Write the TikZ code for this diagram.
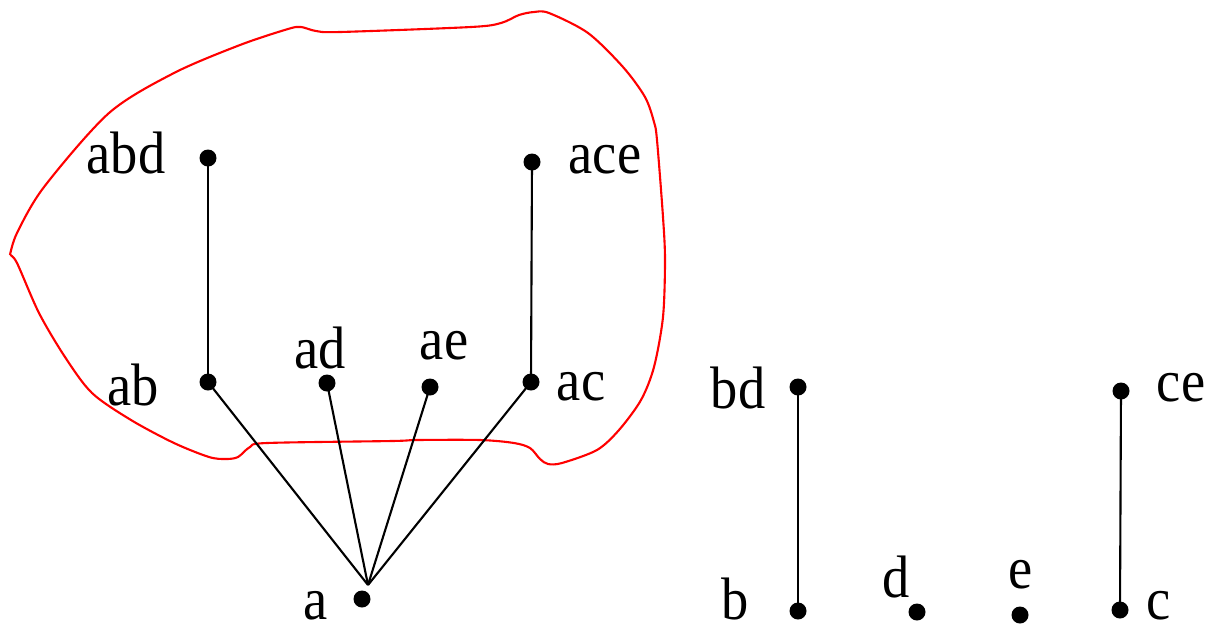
\documentclass[tikz,border=0pt]{standalone}
\usepackage{graphicx}
\usepackage{fontspec}
\setmainfont{Liberation Serif}
\newcommand{\tallbox}[1]{\scalebox{1}[1.1]{#1}}
\begin{document}
\begin{tikzpicture}[x=0.02cm,y=-0.02cm,
  dot/.style={circle,fill=black,inner sep=0pt,minimum size=0.34cm},
  lbl/.style={anchor=base,inner sep=0pt,font=\fontsize{31}{36}\selectfont},
  edge/.style={line width=1.2pt},
  blob/.style={red,line width=1.2pt}]
\useasboundingbox (0,0) rectangle (1211,630);
% red outline
\draw[blob] plot[smooth,tension=0.5] coordinates {(10,255) (17,233) (44,187) (109,113) (174,73) (240,45) (288,29) (301,27) (316,31) (340,32) (471,27) (501,23) (519,15) (534,12) (549,13) (588,33) (623,67) (645,97) (654,122) (657,140) (663,217) (665,260) (663,317) (654,367) (641,400) (619,430) (597,450) (562,463) (548,464) (540,459) (530,448) (514,443) (480,440) (417,440) (392,441) (267,443) (250,447) (238,457) (226,459) (209,457) (174,443) (131,420) (92,393) (65,357) (39,313) (17,263) (10,255)};
% dots
\node[dot] (abd) at (208,158) {};
\node[dot] (ace) at (532,162) {};
\node[dot] (ab) at (208,382) {};
\node[dot] (ad) at (327,383) {};
\node[dot] (ae) at (430,387) {};
\node[dot] (ac) at (531,382) {};
\node[dot] (a) at (362,599) {};
\coordinate (apex) at (368,585);
\node[dot] (bd) at (798,387) {};
\node[dot] (ce) at (1121,391) {};
\node[dot] (b) at (798,611) {};
\node[dot] (d) at (917,612) {};
\node[dot] (e) at (1020,615) {};
\node[dot] (c) at (1120,610) {};
% labels
\node[lbl] (labd) at (126,173) {\tallbox{abd}};
\node[lbl] (lace) at (605,173) {\tallbox{ace}};
\node[lbl] (lab) at (133,405) {\tallbox{ab}};
\node[lbl] (lad) at (320,368) {\tallbox{ad}};
\node[lbl] (lae) at (444,359) {\tallbox{ae}};
\node[lbl] (lac) at (581,400) {\tallbox{ac}};
\node[lbl] (la) at (316,619) {\tallbox{a}};
\node[lbl] (lbd) at (738,408) {\tallbox{bd}};
\node[lbl] (lce) at (1181,401) {\tallbox{ce}};
\node[lbl] (lb) at (735,619) {\tallbox{b}};
\node[lbl] (ld) at (896,597) {\tallbox{d}};
\node[lbl] (le) at (1021,588) {\tallbox{e}};
\node[lbl] (lc) at (1159,619) {\tallbox{c}};
% edges
\draw[edge] (abd.center) -- (ab.center);
\draw[edge] (ace.center) -- (ac.center);
\draw[edge] (ab.center) -- (apex);
\draw[edge] (ad.center) -- (apex);
\draw[edge] (ae.center) -- (apex);
\draw[edge] (ac.center) -- (apex);
\draw[edge] (bd.center) -- (b.center);
\draw[edge] (ce.center) -- (c.center);
\end{tikzpicture}
\end{document}
